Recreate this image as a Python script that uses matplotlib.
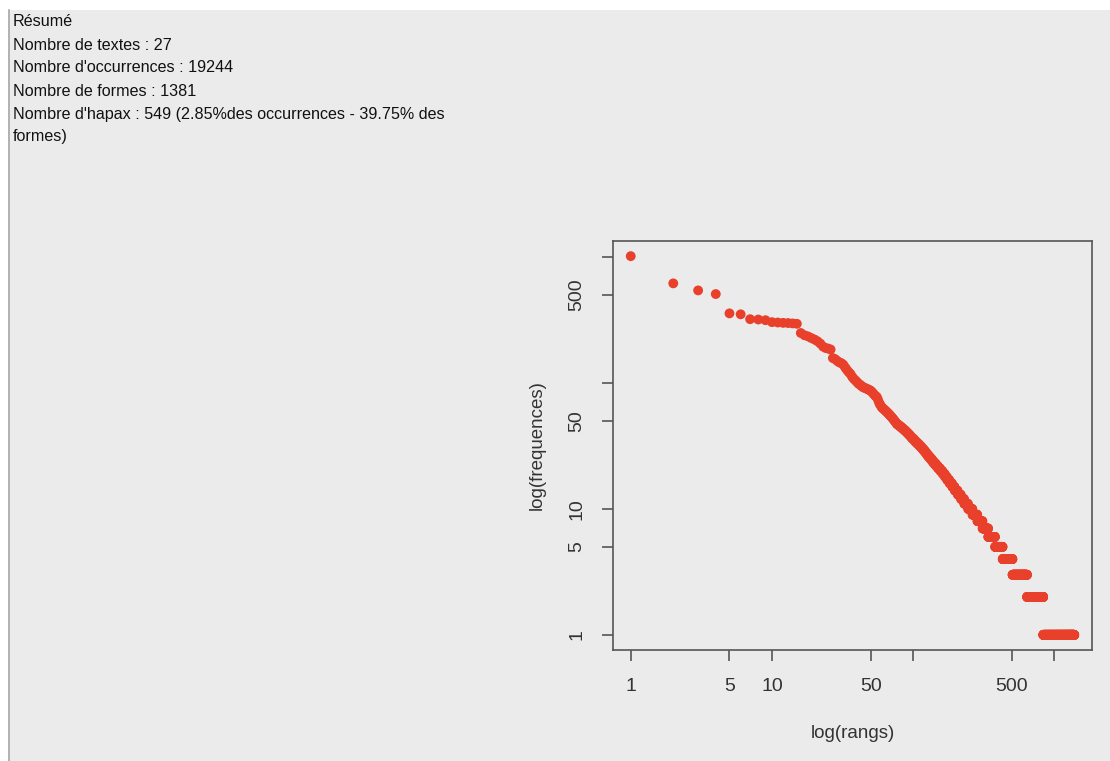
import numpy as np
import matplotlib
matplotlib.use("Agg")
import matplotlib.pyplot as plt
from matplotlib.patches import Rectangle

# ---- summary text ----
summary_lines = [
    "Résumé",
    "Nombre de textes : 27",
    "Nombre d'occurrences : 19244",
    "Nombre de formes : 1381",
    "Nombre d'hapax : 549 (2.85%des occurrences - 39.75% des",
    "formes)",
]

# ---- data: frequencies of the most frequent forms (ranks 1..84) ----
top_freqs = [1020, 620, 545, 510, 358, 352,
             322, 320, 316, 305, 303, 301, 300, 298, 296,
             250, 240, 235, 228, 222, 215, 206, 195, 190, 188, 185,
             158, 155, 150, 146, 144, 140, 133, 127, 122, 118, 112, 108, 105, 102,
             99, 97, 95, 93, 92, 91, 90, 89, 88, 87, 85, 83, 81, 79, 78,
             75, 71, 68, 66, 64, 63, 62, 61, 60, 59, 58, 57, 56, 55, 54, 53, 52,
             51, 50, 49, 48, 47, 47, 46, 46, 45, 45, 44, 44]

# frequency spectrum for the remaining forms: frequency value -> number of forms
spec_freq = [43, 42, 41, 40, 39, 38, 37, 36, 35, 34, 33, 32, 31, 30, 29, 28,
             27, 26, 25, 24, 23, 22, 21, 20, 19, 18, 17, 16, 15, 14, 13, 12,
             11, 10, 9, 8, 7, 6, 5, 4, 3, 2, 1]
spec_count = [2, 2, 2, 2, 2, 2, 2, 3, 2, 3, 3, 3, 3, 3, 3, 3,
              3, 4, 4, 4, 5, 5, 6, 6, 6, 6, 7, 8, 8, 10, 11, 12,
              15, 18, 22, 25, 30, 40, 50, 75, 135, 193, 549]

x_ticks = [1, 5, 10, 50, 100, 500, 1000]
x_ticklabels = ["1", "5", "10", "50", "", "500", ""]
y_ticks = [1, 5, 10, 50, 100, 500, 1000]
y_ticklabels = ["1", "5", "10", "50", "", "500", ""]

freqs = np.array(top_freqs + list(np.repeat(spec_freq, spec_count)), dtype=float)
ranks = np.arange(1, len(freqs) + 1)

W, H = 1110, 761
fig = plt.figure(figsize=(W / 100, H / 100), dpi=100)
bg = "#ebebeb"
fig.patch.set_facecolor("white")

# page background panel (in a background axes)
bgax = fig.add_axes([0, 0, 1, 1], zorder=-10)
bgax.set_xlim(0, W)
bgax.set_ylim(H, 0)
bgax.axis("off")
bgax.add_patch(Rectangle((8, 10), W - 8, H - 10, facecolor=bg, edgecolor="none"))
bgax.plot([8.5, 8.5], [10, H], color="#a8a8a8", lw=1.2)

font = "Liberation Sans"
line_y = [21, 45, 68, 91, 114, 137]
for txt, yy in zip(summary_lines, line_y):
    bgax.text(13, yy, txt, ha="left", va="center", fontsize=11.6,
              family=font, color="#111111")

ax = fig.add_axes([613 / W, 1 - 650 / H, (1092 - 613) / W, (650 - 241) / H])
ax.set_facecolor(bg)
ax.set_xscale("log")
ax.set_yscale("log")

ax.scatter(ranks, freqs, s=50, color="#e8402a", edgecolors="none", zorder=3)

# R-style 4% axis expansion in log space
lx0, lx1 = np.log10(ranks.min()), np.log10(ranks.max())
ly0, ly1 = np.log10(freqs.min()), np.log10(freqs.max())
dx, dy = 0.04 * (lx1 - lx0), 0.04 * (ly1 - ly0)
ax.set_xlim(10 ** (lx0 - dx), 10 ** (lx1 + dx))
ax.set_ylim(10 ** (ly0 - dy), 10 ** (ly1 + dy))

ax.minorticks_off()
ax.set_xticks(x_ticks)
ax.set_xticklabels(x_ticklabels)
ax.set_yticks(y_ticks)
ax.set_yticklabels(y_ticklabels, rotation=90, va="center")

axcol = "#555555"
for sp in ax.spines.values():
    sp.set_color(axcol)
    sp.set_linewidth(1.2)
ax.tick_params(axis="both", direction="out", length=8, width=1.2, color=axcol,
               labelsize=14, labelcolor="#333333", pad=12)
for lab in ax.get_xticklabels() + ax.get_yticklabels():
    lab.set_family(font)

ax.set_xlabel("log(rangs)", fontsize=13.5, family=font, color="#333333", labelpad=22)
ax.set_ylabel("log(frequences)", fontsize=13.5, family=font, color="#333333", labelpad=16)

fig.savefig("out.png", dpi=100, facecolor=fig.get_facecolor())
